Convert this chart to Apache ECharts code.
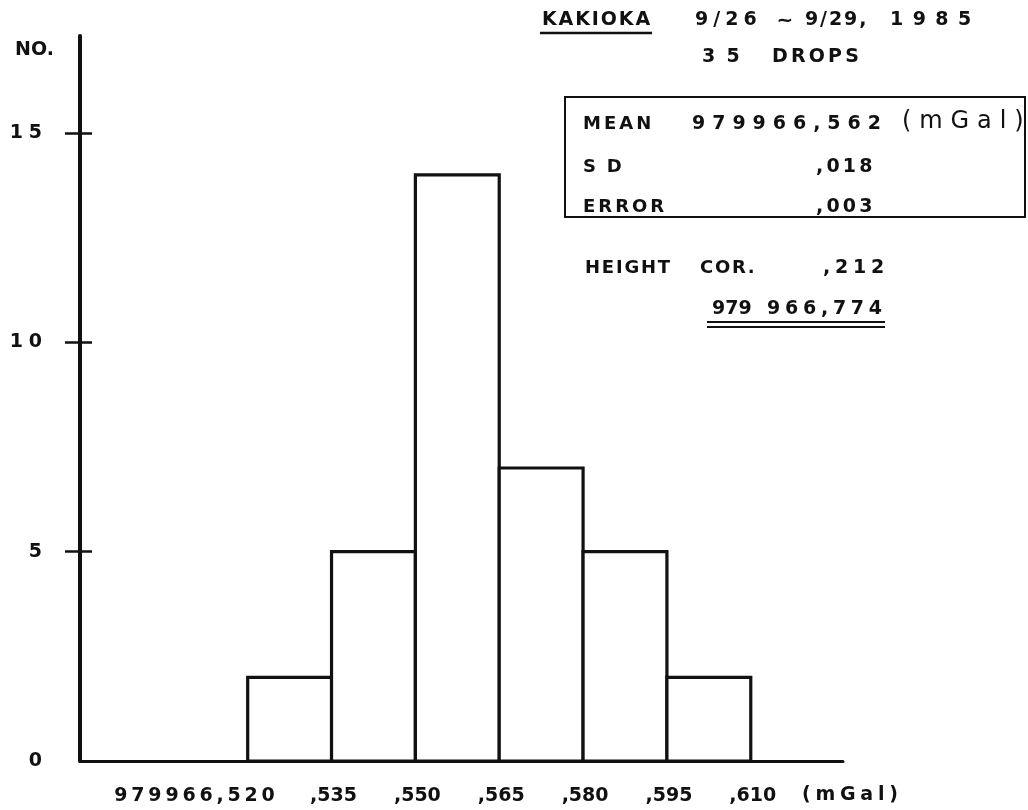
<!DOCTYPE html>
<html>
<head>
<meta charset="utf-8">
<script src="https://cdn.jsdelivr.net/npm/echarts@6/dist/echarts.min.js"></script>
<style>
  html, body { margin: 0; padding: 0; background: #fff; }
  #chart { width: 1028px; height: 810px; }
</style>
</head>
<body>
<div id="chart"></div>
<script>
// Histogram of 35 absolute-gravity drops, Kakioka, Sep 26-29 1985.
// Bin edges in thousandths of mGal above 979966 mGal.
const binEdges = [520, 535, 550, 565, 580, 595, 610];
const binCounts = [2, 5, 14, 7, 5, 2];
const edgeLabels = ['979966,520', ',535', ',550', ',565', ',580', ',595', ',610'];
const yTickValues = [5, 10, 15];
const yLabelValues = [0, 5, 10, 15];

const FONT = '"DejaVu Sans", "Liberation Sans", sans-serif';
const INK = '#111';

// Typewriter-style spacing: pick the space character (or pair) whose width
// best matches the gap needed so that a string spans `width` px.
const measureCtx = document.createElement('canvas').getContext('2d');
const SPACE_CHARS = ['\u200A', '\u2009', '\u2006', '\u2005', '\u2004', '\u2002', ' '];
function fit(str, width, size, weight) {
  measureCtx.font = (weight || 'bold') + ' ' + size + 'px ' + FONT;
  const chars = Array.from(str);
  const gaps = chars.length - 1;
  const natural = measureCtx.measureText(str).width;
  if (gaps < 1 || width <= natural) return str;
  const per = (width - natural) / gaps;
  const cands = [''];
  SPACE_CHARS.forEach((a, i) => {
    cands.push(a);
    SPACE_CHARS.slice(i).forEach(b => cands.push(a + b));
  });
  let best = '', bestErr = per;
  cands.forEach(c => {
    const w = c ? measureCtx.measureText('0' + c + '0').width - measureCtx.measureText('00').width : 0;
    const err = Math.abs(w - per);
    if (err < bestErr) { bestErr = err; best = c; }
  });
  return chars.join(best);
}

const bars = binCounts.map((n, i) => [binEdges[i], binEdges[i + 1], n]);
const edgeLabelData = binEdges.map((v, i) => [v, i]);

const chart = echarts.init(document.getElementById('chart'), null, { renderer: 'canvas' });

function txt(x, y, s, size, align, weight) {
  return {
    type: 'text', x: x, y: y,
    style: {
      text: s, fill: INK, fontFamily: FONT, fontWeight: weight || 'bold',
      fontSize: size, align: align || 'left', verticalAlign: 'middle'
    }
  };
}
// text laid out between x1 and x2
function span(x1, x2, y, s, size, weight) {
  return txt(x1, y, fit(s, x2 - x1, size, weight), size, 'left', weight);
}
function hline(x1, x2, y, w) {
  return { type: 'line', shape: { x1: x1, y1: y, x2: x2, y2: y }, style: { stroke: INK, lineWidth: w || 2 } };
}

chart.setOption({
  animation: false,
  backgroundColor: '#fff',
  grid: { left: 80, right: 185, top: 36, bottom: 49, containLabel: false, outerBoundsMode: 'none' },
  xAxis: {
    type: 'value',
    min: 490,
    max: 626.5,
    axisLine: { show: true, onZero: false, lineStyle: { color: INK, width: 3 } },
    axisTick: { show: false },
    axisLabel: { show: false },
    splitLine: { show: false }
  },
  yAxis: [
    {
      type: 'value',
      min: 0,
      max: 17.32,
      axisLine: { show: true, lineStyle: { color: INK, width: 4 } },
      axisTick: { show: true, inside: false, length: 15, customValues: yTickValues, lineStyle: { color: INK, width: 2.5 } },
      axisLabel: {
        show: true, margin: 38, color: INK, fontFamily: FONT, fontWeight: 'bold', fontSize: 19,
        customValues: yLabelValues,
        formatter: v => fit(String(v), String(v).length > 1 ? 32 : 10, 19)
      },
      splitLine: { show: false }
    },
    {
      type: 'value',
      position: 'left',
      min: 0,
      max: 17.32,
      axisLine: { show: false },
      axisTick: { show: true, inside: true, length: 12, customValues: yTickValues, lineStyle: { color: INK, width: 2.5 } },
      axisLabel: { show: false },
      splitLine: { show: false }
    }
  ],
  series: [
    {
      type: 'custom',
      data: bars,
      renderItem: function (params, api) {
        const top = api.coord([api.value(0), api.value(2)]);
        const base = api.coord([api.value(1), 0]);
        return {
          type: 'rect',
          shape: { x: top[0], y: top[1], width: base[0] - top[0], height: base[1] - top[1] },
          style: { fill: '#fff', stroke: INK, lineWidth: 3.2 }
        };
      },
      z: 3
    },
    {
      // bin-edge labels under the axis
      type: 'custom',
      data: edgeLabelData,
      silent: true,
      renderItem: function (params, api) {
        const i = api.value(1);
        const p = api.coord([api.value(0), 0]);
        const first = i === 0;
        return {
          type: 'text',
          x: first ? p[0] + 27 : p[0] + 2,
          y: p[1] + 35,
          style: {
            text: fit(edgeLabels[i], first ? 162 : 49, 19),
            fill: INK, fontFamily: FONT, fontWeight: 'bold', fontSize: 19,
            align: first ? 'right' : 'center', verticalAlign: 'middle'
          }
        };
      },
      z: 4
    }
  ],
  graphic: [
    span(15, 53, 50, 'NO.', 19),
    span(802, 898, 795, '(mGal)', 19),

    span(542, 650, 20, 'KAKIOKA', 19),
    hline(540, 652, 33, 2.5),
    span(695, 757, 20, '9/26', 19),
    txt(785, 21, '~', 20, 'center'),
    span(805, 868, 20, '9/29,', 19),
    span(890, 970, 20, '1985', 19),
    span(702, 740, 57, '35', 19),
    span(772, 858, 57, 'DROPS', 19),

    { type: 'rect', shape: { x: 565, y: 97, width: 460, height: 120 }, style: { fill: 'none', stroke: INK, lineWidth: 2 } },
    span(583, 650, 124, 'MEAN', 18),
    span(692, 883, 124, '979966,562', 19),
    span(902, 1023, 122, '(mGal)', 24, 'normal'),
    span(583, 622, 167, 'SD', 18),
    span(816, 873, 167, ',018', 19),
    span(583, 662, 207, 'ERROR', 18),
    span(816, 873, 207, ',003', 19),

    span(585, 672, 268, 'HEIGHT', 18),
    span(700, 753, 268, 'COR.', 18),
    span(823, 883, 268, ',212', 19),
    span(712, 753, 309, '979', 19),
    span(767, 882, 309, '966,774', 19),
    hline(707, 885, 322, 2),
    hline(707, 885, 327, 2)
  ]
});
</script>
</body>
</html>
